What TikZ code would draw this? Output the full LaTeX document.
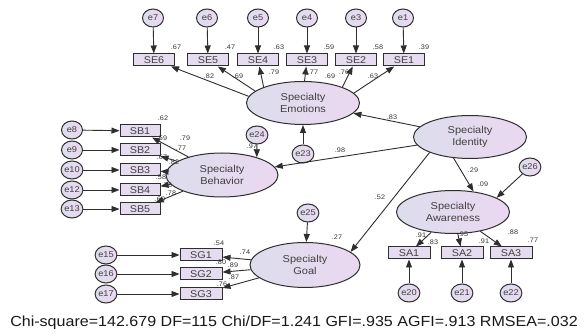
\documentclass[tikz,border=0pt]{standalone}
\usepackage{fontspec}
\setmainfont{Liberation Sans}[FakeStretch=1.1]
\usetikzlibrary{arrows.meta,shapes.geometric}
\definecolor{lin}{HTML}{2E2E2E}
\definecolor{fillA}{HTML}{DCDDEC}
\definecolor{fillB}{HTML}{EBD8F1}
\definecolor{boxf}{HTML}{E6DCF0}
\tikzset{
 lat/.style={ellipse, draw=lin, line width=1pt, left color=fillA, right color=fillB, minimum width=113pt, minimum height=43pt, inner sep=0pt, align=center, font=\fontsize{10}{11.5}\selectfont, text=black!75},
 err/.style={ellipse, draw=lin, line width=1pt, left color=fillA, right color=fillB, minimum width=21pt, minimum height=18pt, inner sep=0pt, font=\fontsize{8.4}{9}\selectfont, text=black!75},
 obs/.style={rectangle, draw=lin, line width=1pt, fill=boxf, minimum width=41pt, minimum height=12pt, inner sep=0pt, font=\fontsize{9.8}{10}\selectfont, text=black!75},
 num/.style={font=\fontsize{6.6}{7}\selectfont, inner sep=0pt, text=black!80},
 arr/.style={draw=lin, line width=0.9pt, -{Triangle[length=8pt,width=6pt]}},
}
\begin{document}
\begin{tikzpicture}[x=1pt,y=-1pt]
\path[fill=white] (0,0) rectangle (587,336);
\useasboundingbox (0,0) rectangle (587,336);
% latent variables
\node[lat] (Emo) at (303,103) {Specialty\\Emotions};
\node[lat] (Iden) at (470,137) {Specialty\\Identity};
\node[lat, minimum width=112pt, minimum height=44pt] (Beh) at (222,175) {Specialty\\Behavior};
\node[lat, minimum width=110pt, minimum height=45pt] (Goal) at (305,265) {Specialty\\Goal};
\node[lat] (Aware) at (453,212) {Specialty\\Awareness};
% SE
\node[obs] (SE6) at (154,60) {SE6};
\node[obs] (SE5) at (208,60) {SE5};
\node[obs] (SE4) at (258,60) {SE4};
\node[obs] (SE3) at (307,60) {SE3};
\node[obs] (SE2) at (356,60) {SE2};
\node[obs] (SE1) at (404,60) {SE1};
\node[err] (e7) at (153,18) {e7};
\node[err] (e6) at (207,18) {e6};
\node[err] (e5) at (258,18) {e5};
\node[err] (e4) at (307,18) {e4};
\node[err] (e3) at (356,18) {e3};
\node[err] (e1) at (403,18) {e1};
% SB
\node[obs, minimum width=40pt] (SB1) at (140,131) {SB1};
\node[obs, minimum width=40pt] (SB2) at (140,150) {SB2};
\node[obs, minimum width=40pt] (SB3) at (140,170) {SB3};
\node[obs, minimum width=40pt] (SB4) at (140,190) {SB4};
\node[obs, minimum width=40pt] (SB5) at (140,209) {SB5};
\node[err] (e8) at (72,130) {e8};
\node[err] (e9) at (72,150) {e9};
\node[err] (e10) at (72,170) {e10};
\node[err] (e12) at (72,190) {e12};
\node[err] (e13) at (72,209) {e13};
% SG
\node[obs, minimum width=42pt] (SG1) at (201,255) {SG1};
\node[obs, minimum width=42pt] (SG2) at (201,274) {SG2};
\node[obs, minimum width=42pt] (SG3) at (201,294) {SG3};
\node[err] (e15) at (106,255) {e15};
\node[err] (e16) at (106,274) {e16};
\node[err] (e17) at (106,294) {e17};
% SA
\node[obs, minimum width=42pt] (SA1) at (409,253) {SA1};
\node[obs, minimum width=42pt] (SA2) at (462,253) {SA2};
\node[obs, minimum width=42pt] (SA3) at (511,253) {SA3};
\node[err] (e20) at (409,293) {e20};
\node[err] (e21) at (462,293) {e21};
\node[err] (e22) at (511,293) {e22};
% disturbances
\node[err] (e23) at (303,154) {e23};
\node[err] (e24) at (257,135) {e24};
\node[err] (e25) at (308,213) {e25};
\node[err] (e26) at (530,167) {e26};
% arrows: errors
\foreach \e/\o in {e7/SE6,e6/SE5,e5/SE4,e4/SE3,e3/SE2,e1/SE1,e8/SB1,e9/SB2,e10/SB3,e12/SB4,e13/SB5,e15/SG1,e16/SG2,e17/SG3,e20/SA1,e21/SA2,e22/SA3}
  \draw[arr] (\e) -- (\o);
% loadings
\draw[arr] (Emo.173) -- (SE6);
\draw[arr] (Emo.166) -- (SE5);
\draw[arr] (Emo.158) -- (SE4);
\draw[arr] (Emo.86) -- (SE3);
\draw[arr] (Emo.22) -- (SE2);
\draw[arr] (Emo.11) -- (SE1);
\foreach \o in {SB1,SB2,SB3,SB4,SB5} \draw[arr] (Beh) -- (\o);
\foreach \o in {SG1,SG2,SG3} \draw[arr] (Goal) -- (\o);
\foreach \o in {SA1,SA2,SA3} \draw[arr] (Aware) -- (\o);
% structural
\draw[arr] (Iden) -- (Emo);
\draw[arr] (Iden) -- (Beh);
\draw[arr] (Iden.201) -- (Goal.16);
\draw[arr] (Iden.232) -- (Aware.45);
\draw[arr] (e23) -- (Emo);
\draw[arr] (e24) -- (Beh.27);
\draw[arr] (e25) -- (Goal);
\draw[arr] (e26) -- (Aware.18);
% numbers
\node[num] (r1) at (176,47) {.67};
\node[num] (r2) at (230,47) {.47};
\node[num] (r3) at (279,47) {.63};
\node[num] (r4) at (329,47) {.59};
\node[num] (r5) at (378,47) {.58};
\node[num] (r6) at (424,47) {.39};
\node[num] (l1) at (209,76) {.82};
\node[num] (l2) at (238,76) {.69};
\node[num] (l3) at (274,72) {.79};
\node[num] (l4) at (313,72) {.77};
\node[num] (l5) at (330,76) {.69};
\node[num] (l6) at (344,72) {.76};
\node[num] (l7) at (373,76) {.63};
\node[num] (p1) at (392,117) {.83};
\node[num] (p2) at (340,150) {.98};
\node[num] (p3) at (380,197) {.52};
\node[num] (p4) at (473,170) {.29};
\node[num] (p5) at (483,184) {.09};
\node[num] (p6) at (252,146) {.97};
\node[num] (p7) at (337,237) {.27};
\node[num] (b1) at (163,118) {.62};
\node[num] (b2) at (162,138) {.59};
\node[num] (b3) at (185,138) {.79};
\node[num] (b4) at (181,148) {.77};
\node[num] (b5) at (162,157) {.67};
\node[num] (b6) at (174,162) {.82};
\node[num] (b7) at (161,177) {.58};
\node[num] (b8) at (167,185) {.76};
\node[num] (b9) at (160,199) {.60};
\node[num] (b10) at (171,193) {.78};
\node[num] (g1) at (219,243) {.54};
\node[num] (g2) at (245,252) {.74};
\node[num] (g3) at (221,262) {.80};
\node[num] (g4) at (233,265) {.89};
\node[num] (g5) at (234,277) {.87};
\node[num] (g6) at (222,284) {.76};
\node[num] (a1) at (421,235) {.91};
\node[num] (a2) at (433,242) {.83};
\node[num] (a3) at (463,234) {.95};
\node[num] (a4) at (484,241) {.91};
\node[num] (a5) at (513,232) {.88};
\node[num] (a6) at (533,240) {.77};
% fit line
\node[font=\fontsize{14.6}{16}\selectfont, inner sep=0pt, text=black!90] (fit) at (294,323) {Chi-square=142.679 DF=115 Chi/DF=1.241 GFI=.935 AGFI=.913 RMSEA=.032};
\end{tikzpicture}
\end{document}
